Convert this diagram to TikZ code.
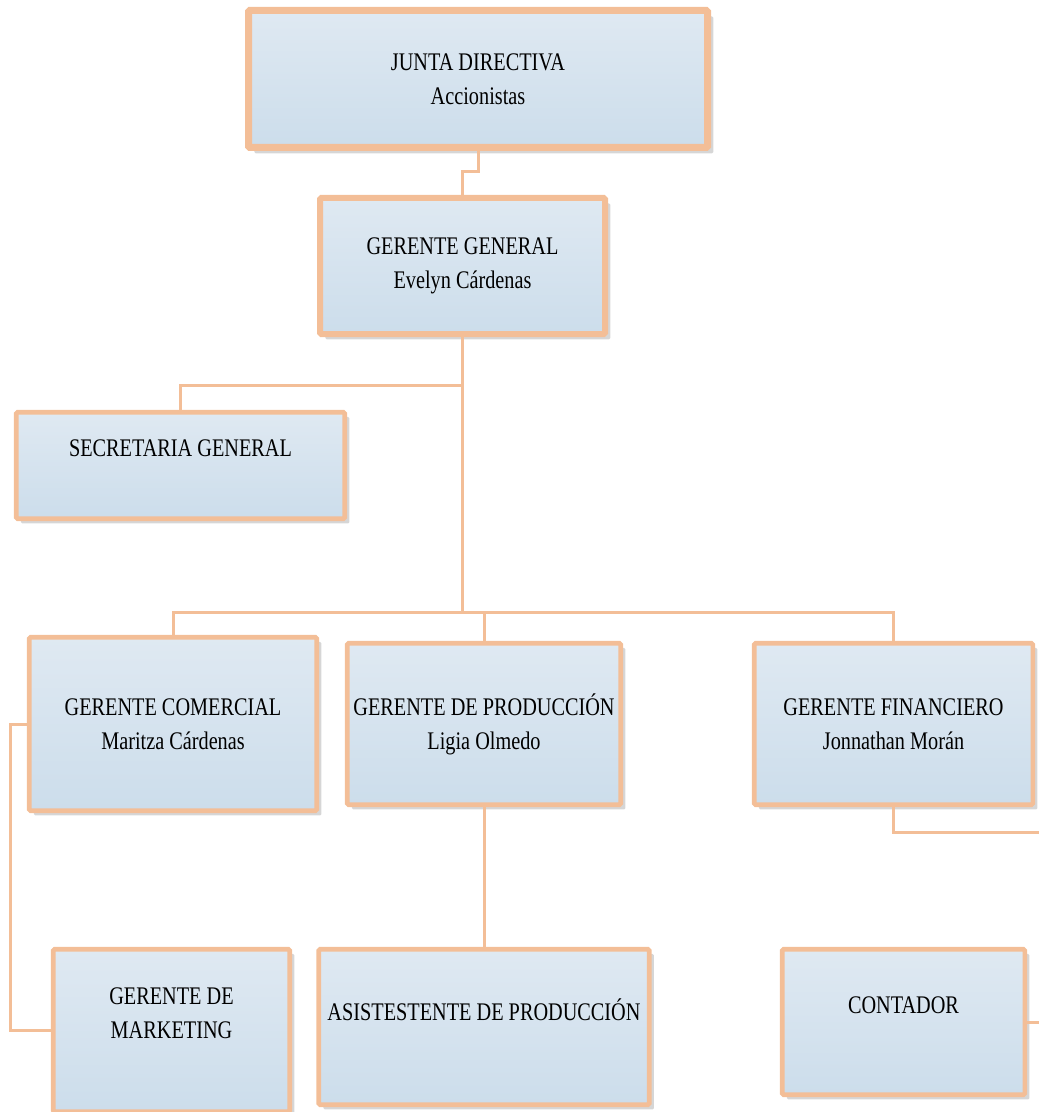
\documentclass[tikz,border=0pt]{standalone}
\usepackage{fontspec}
\setmainfont{Liberation Serif}[FakeStretch=0.8]
\usetikzlibrary{shadows}
\definecolor{peach}{RGB}{243,190,151}
\definecolor{boxtop}{RGB}{223,233,242}
\definecolor{boxbot}{RGB}{204,221,235}
\definecolor{shadowgray}{RGB}{214,214,214}
\tikzset{
  orgbox/.style={draw=peach, line width=#1, top color=boxtop, bottom color=boxbot,
    inner sep=0pt, align=center, rounded corners=1pt,
    font=\fontsize{19}{25.5}\selectfont,
    drop shadow={shadow xshift=#1/2+1.8pt, shadow yshift=-#1/2-1.8pt, fill=shadowgray, opacity=1}},
  orgbox/.default=3.4pt,
  link/.style={draw=peach, line width=2.25pt},
}
\begin{document}
\begin{tikzpicture}[x=0.75pt, y=-0.75pt]
\useasboundingbox (0,0) rectangle (1038,1112);

\node[orgbox=5.25pt, minimum width=459*0.75pt, minimum height=137*0.75pt] (junta) at (478,79) {JUNTA DIRECTIVA\\Accionistas};
\node[orgbox=4.5pt, minimum width=285*0.75pt, minimum height=136*0.75pt] (gg) at (462.5,266) {GERENTE GENERAL\\Evelyn Cárdenas};
\node[orgbox, minimum width=328.5*0.75pt, minimum height=106.5*0.75pt] (sec) at (180.5,465.5) {SECRETARIA GENERAL\\\mbox{}};
\node[orgbox, minimum width=287.5*0.75pt, minimum height=173.5*0.75pt] (com) at (173,724) {GERENTE COMERCIAL\\Maritza Cárdenas};
\node[orgbox, minimum width=273.5*0.75pt, minimum height=161.5*0.75pt] (prod) at (484,724) {GERENTE DE PRODUCCIÓN\\Ligia Olmedo};
\node[orgbox, minimum width=278.5*0.75pt, minimum height=161.5*0.75pt] (fin) at (893.5,724) {GERENTE FINANCIERO\\Jonnathan Morán};
\node[orgbox, minimum width=236.5*0.75pt, minimum height=162.5*0.75pt] (mkt) at (171.5,1030.5) {GERENTE DE\\MARKETING\\\mbox{}};
\node[orgbox, minimum width=330.5*0.75pt, minimum height=155.5*0.75pt] (asis) at (484,1027) {ASISTESTENTE DE PRODUCCIÓN\\\mbox{}};
\node[orgbox, minimum width=242.5*0.75pt, minimum height=145.5*0.75pt] (cont) at (903.5,1022) {CONTADOR\\\mbox{}};

\coordinate (sbus) at (462.5,385);
\coordinate (bus) at (462.5,612);
\coordinate (finout) at (1040,832);
\coordinate (contout) at (1040,1021);

\draw[link] (junta.south) -- ++(0,21) -| (gg.north);
\draw[link] (gg.south) -- (bus);
\draw[link] (sbus) -| (sec.north);
\draw[link] (com.north) |- (bus) -| (fin.north);
\draw[link] (prod.north) -- (prod.north |- bus);
\draw[link] (prod.south) -- (asis.north);
\draw[link] (com.west) -- ++(-16,0) |- (mkt.west);
\draw[link] (fin.south) |- (finout);
\draw[link] (cont.east) -- (cont.east -| contout);
\end{tikzpicture}
\end{document}
